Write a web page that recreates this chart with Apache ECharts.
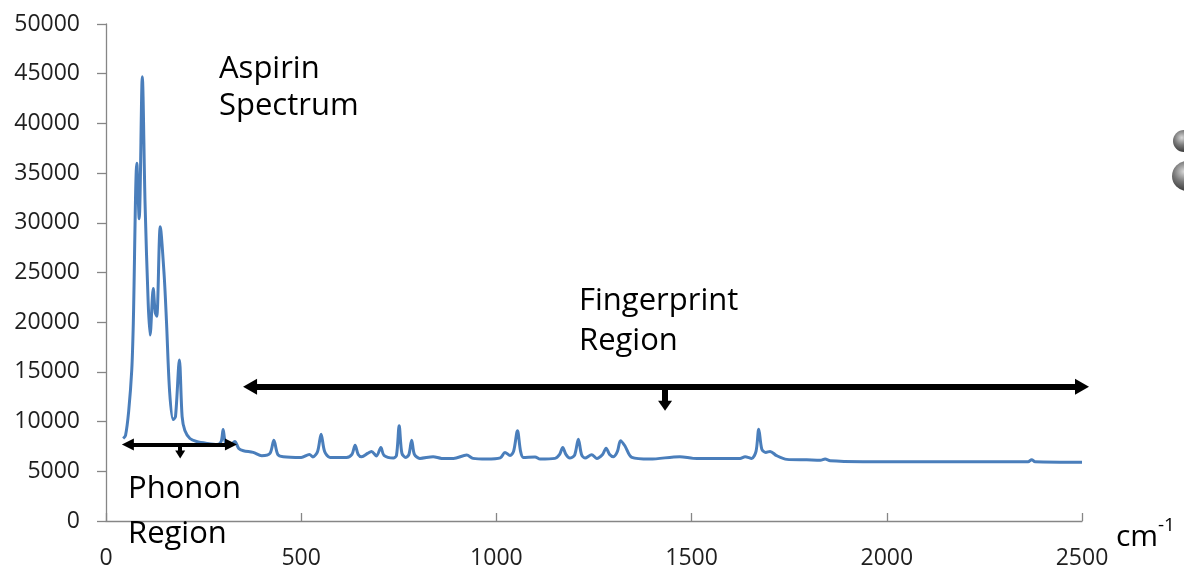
<!DOCTYPE html>
<html>
<head>
<meta charset="utf-8">
<script src="https://cdn.jsdelivr.net/npm/echarts@6/dist/echarts.min.js"></script>
<style>html,body{margin:0;padding:0;background:#fff}#c{width:1184px;height:570px}</style>
</head>
<body>
<div id="c"></div>
<script>
// Raman shift (cm-1) and intensity
const wavenumbers = [44,50,58,66,70,79,85,93,100,108,113,121,126,130,139,149,155,163,172,178,188,195,202,215,232,260,285,295,300,306,318,330,340,352,377,399,420,430,440,454,500,521,530,542,551,560,574,616,630,638,646,655,670,680,693,704,712,736,744,751,758,768,776,783,790,804,838,860,890,924,940,975,1010,1022,1035,1044,1054,1062,1069,1099,1112,1150,1162,1170,1178,1188,1200,1210,1218,1227,1244,1257,1272,1281,1290,1300,1310,1318,1329,1347,1393,1470,1504,1529,1624,1637,1654,1665,1672,1680,1690,1701,1718,1744,1795,1830,1842,1855,1939,2100,2300,2362,2371,2380,2500];
const intensity = [8300,8600,11000,15200,20000,36000,30400,44700,32000,22000,18700,23400,21000,20600,29600,24700,20000,13000,10200,10500,16200,10500,9100,8300,8000,7800,7700,8000,9200,7900,7600,8000,7300,7070,6900,6570,6800,8130,6700,6470,6400,6700,6450,7000,8730,7000,6400,6400,6700,7630,6700,6470,6800,7000,6550,7400,6600,6330,6600,9570,6800,6400,6700,8130,6700,6300,6470,6300,6300,6630,6300,6230,6350,6900,6600,7000,9070,7000,6400,6450,6230,6300,6700,7400,6700,6330,6600,8230,6700,6330,6670,6300,6700,7330,6700,6470,7000,8070,7570,6400,6230,6470,6300,6280,6300,6470,6300,7000,9230,7200,6900,7000,6570,6200,6150,6100,6230,6070,5970,5950,5950,5950,6170,5950,5900];
const xTicks = {min: 0, max: 2500, step: 500};
const yTicks = {min: 0, max: 50000, step: 5000};
// annotation arrows: [x1, y1, x2, y2]
const fingerprintArrow = [369, 13500, 2500, 13500];
const fingerprintPointer = [1432, 13500, 1432, 11600];
const phononArrow = [56, 7700, 320, 7700];
const phononPointer = [190, 7700, 190, 6700];

const spectrum = wavenumbers.map((x, i) => [x, intensity[i]]);
const F = '"Open Sans", "Liberation Sans", sans-serif';

const chart = echarts.init(document.getElementById('c'), null, {renderer: 'canvas'});
const plain = v => String(v);

chart.setOption({
  animation: false,
  backgroundColor: '#ffffff',
  grid: {left: 106, right: 102, top: 24, bottom: 46},
  xAxis: {
    type: 'value', min: xTicks.min, max: xTicks.max, interval: xTicks.step,
    axisLine: {lineStyle: {color: '#868686', width: 1.3}},
    axisTick: {show: true, inside: true, length: 8, lineStyle: {color: '#868686', width: 1.3}},
    axisLabel: {margin: 26, fontSize: 23, color: '#1f1f1f', fontFamily: F, formatter: plain},
    splitLine: {show: false}
  },
  yAxis: {
    type: 'value', min: yTicks.min, max: yTicks.max, interval: yTicks.step,
    axisLine: {show: true, lineStyle: {color: '#868686', width: 1.3}},
    axisTick: {show: true, length: 9, lineStyle: {color: '#868686', width: 1.3}},
    axisLabel: {margin: 26, fontSize: 23, color: '#1f1f1f', fontFamily: F, formatter: plain},
    splitLine: {show: false}
  },
  series: [
    {
      type: 'line', data: spectrum, smooth: 0.3, symbol: 'none',
      lineStyle: {color: '#4a7ebb', width: 3}, z: 2
    },
    {
      type: 'line', data: [], clip: false, z: 5, silent: true,
      markLine: {
        silent: true, animation: false, label: {show: false},
        symbol: ['triangle', 'triangle'],
        lineStyle: {color: '#000', type: 'solid'},
        data: [
          [{coord: [fingerprintArrow[0], fingerprintArrow[1]], symbol: 'triangle', symbolSize: [16, 14], lineStyle: {width: 6, color: '#000'}},
           {coord: [fingerprintArrow[2], fingerprintArrow[3]], symbol: 'triangle', symbolSize: [16, 14]}],
          [{coord: [fingerprintPointer[0], fingerprintPointer[1]], symbol: 'none', lineStyle: {width: 6, color: '#000'}},
           {coord: [fingerprintPointer[2], fingerprintPointer[3]], symbol: 'triangle', symbolSize: [14, 10]}],
          [{coord: [phononArrow[0], phononArrow[1]], symbol: 'triangle', symbolSize: [12, 12], lineStyle: {width: 4, color: '#000'}},
           {coord: [phononArrow[2], phononArrow[3]], symbol: 'triangle', symbolSize: [12, 12]}],
          [{coord: [phononPointer[0], phononPointer[1]], symbol: 'none', lineStyle: {width: 4, color: '#000'}},
           {coord: [phononPointer[2], phononPointer[3]], symbol: 'triangle', symbolSize: [10, 8]}]
        ]
      }
    }
  ]
});

const big = {fontSize: 31, fontFamily: F, fill: '#000', verticalAlign: 'middle', align: 'left'};
function txt(t, x, y, extra) {
  return {type: 'text', x: x, y: y, z: 10, style: Object.assign({text: t}, big, extra || {})};
}
function ball(cx, cy, r) {
  return {type: 'circle', shape: {cx: cx, cy: cy, r: r}, z: 10,
    style: {fill: new echarts.graphic.RadialGradient(0.4, 0.35, 0.75, [
      {offset: 0, color: '#d8d8d8'}, {offset: 0.45, color: '#7a7a7a'}, {offset: 1, color: '#262626'}])}};
}
chart.setOption({
  graphic: [
    txt('Aspirin', 219, 69),
    txt('Spectrum', 219, 106),
    txt('Fingerprint', 579, 301),
    txt('Region', 579, 341),
    txt('Phonon', 128, 489),
    txt('Region', 128, 534),
    txt('cm', 1116, 537, {fontSize: 30}),
    txt('-1', 1158, 526, {fontSize: 19}),
    ball(1184, 141, 11),
    ball(1187, 176, 15)
  ]
});
</script>
</body>
</html>
